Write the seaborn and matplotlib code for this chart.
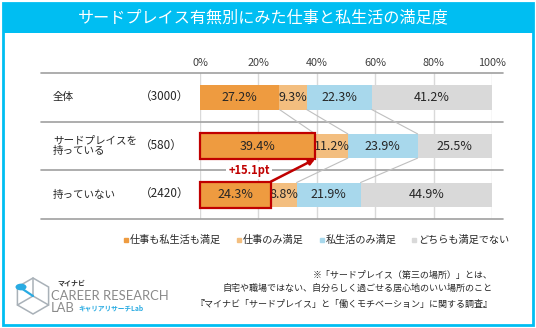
import matplotlib
matplotlib.use("Agg")
import matplotlib.pyplot as plt
from matplotlib.patches import Rectangle, Circle, Polygon
from matplotlib.lines import Line2D
import seaborn as sns
import pandas as pd
import numpy as np

# ---------------- data ----------------
groups = ["全体", "サードプレイスを\n持っている", "持っていない"]
group_n = ["（3000）", "（580）", "（2420）"]
series = ["仕事も私生活も満足", "仕事のみ満足", "私生活のみ満足", "どちらも満足でない"]
both = [27.2, 39.4, 24.3]
work_only = [9.3, 11.2, 8.8]
private_only = [22.3, 23.9, 21.9]
neither = [41.2, 25.5, 44.9]
ticks = [0, 20, 40, 60, 80, 100]
tick_labels = ["0%", "20%", "40%", "60%", "80%", "100%"]
diff_label = "+15.1pt"
title = "サードプレイス有無別にみた仕事と私生活の満足度"
notes = ["※「サードプレイス（第三の場所）」とは、",
         "自宅や職場ではない、自分らしく過ごせる居心地のいい場所のこと",
         "『マイナビ「サードプレイス」と「働くモチベーション」に関する調査』"]

colors = ["#EE9B40", "#F3BE7F", "#A8D8EC", "#D9D9D9"]

sns.set_theme(style="white")
plt.rcParams['font.family'] = ['Noto Sans CJK JP', 'DejaVu Sans']

W, H = 536, 328
fig = plt.figure(figsize=(W / 100, H / 100), dpi=100)

def fx(px):
    return px / W

def fy(py):
    return 1 - py / H

# frame and title bar
frame_col = "#00BEF2"
fig.add_artist(Rectangle((fx(3), fy(325)), fx(530), 322 / H, transform=fig.transFigure,
                         fill=False, edgecolor=frame_col, lw=2))
fig.add_artist(Rectangle((fx(3), fy(33)), fx(530), 30 / H, transform=fig.transFigure,
                         facecolor=frame_col, edgecolor=frame_col, lw=0))
fig.text(fx(263), fy(18), title, color="white", fontsize=11.6, ha="center", va="center")

# main axes: 0% at 200px, 100% at 492px; rows between 73px and 219px
ax = fig.add_axes([fx(200), fy(219), fx(292), 146 / H])

vals = np.array([both, work_only, private_only, neither])  # shape (4, 3)
cum = np.cumsum(vals, axis=0)
df = pd.DataFrame({"group": groups})
for k in range(4):
    df[f"cum{k}"] = cum[k]

for k in range(3, -1, -1):
    sns.barplot(data=df, y="group", x=f"cum{k}", color=colors[k], orient="h",
                width=0.5, saturation=1, ax=ax, linewidth=0, zorder=3)

ax.set_xlim(0, 100)
ax.set_ylim(2.5, -0.5)
ax.set_xlabel("")
ax.set_ylabel("")
ax.set_yticks([])
ax.xaxis.tick_top()
ax.set_xticks(ticks)
ax.set_xticklabels(tick_labels, fontsize=7.8, color="#404040")
ax.tick_params(axis="x", length=0, pad=3.5)
ax.grid(axis="x", color="#D9D9D9", lw=1)
ax.grid(axis="y", visible=False)
ax.set_axisbelow(True)
for s in ax.spines.values():
    s.set_visible(False)

# separators
for yy in [-0.5, 0.5, 1.5, 2.5]:
    ax.plot([-54.5, 103.8], [yy, yy], color="#A0A0A0", lw=1.2, clip_on=False, zorder=2)

# segment labels
for i in range(3):
    for k in range(4):
        v = vals[k, i]
        ax.text(cum[k, i] - v / 2, i, f"{v}%", ha="center", va="center",
                fontsize=9, color="#262626", zorder=6)

# connector lines
for i in range(2):
    for k in range(3):
        ax.plot([cum[k, i], cum[k, i + 1]], [i + 0.25, i + 0.75], color="#BFBFBF",
                lw=0.8, zorder=4, clip_on=False)

# row labels
for i in range(3):
    ax.text(-50.3, i, groups[i], ha="left", va="center", fontsize=7.6,
            color="#262626", linespacing=1.1, clip_on=False)
    ax.text(-20.5, i, group_n[i], ha="left", va="center", fontsize=8.4,
            color="#262626", clip_on=False)

# red highlight boxes
red = "#C00000"
for i in (1, 2):
    ax.add_patch(Rectangle((0, i - 0.27), both[i], 0.54, fill=False,
                           edgecolor=red, lw=1.6, zorder=7, clip_on=False))
ax.annotate("", xy=(both[1], 1 + 0.27), xytext=(both[2], 2 - 0.27),
            arrowprops=dict(arrowstyle="-|>", color=red, lw=1.8, mutation_scale=8,
                            shrinkA=0, shrinkB=0), zorder=8)
ax.text(16.8, 1.5, diff_label, ha="center", va="center", fontsize=8, color=red,
        fontweight="bold", zorder=8,
        bbox=dict(facecolor="white", edgecolor="none", pad=1.5))

# legend
handles = [Line2D([], [], marker="s", linestyle="", markersize=3.5, color=c) for c in colors]
fig.legend(handles, series, loc="center", bbox_to_anchor=(fx(316), fy(240)), ncol=4,
           frameon=False, fontsize=7.3, handletextpad=0.05, handlelength=0.7,
           columnspacing=1.4, labelcolor="#262626")

# notes
for txt, py in zip(notes, [275, 288, 304]):
    fig.text(fx(493), fy(py), txt, ha="right", va="center", fontsize=6.5, color="#262626")

# logo
cx, cy, r = 33, 296, 18
ang = np.deg2rad([90, 150, 210, 270, 330, 30])
pts = [(fx(cx + r * np.cos(a)), fy(cy - r * np.sin(a))) for a in ang]
fig.add_artist(Polygon(pts, closed=True, fill=False, edgecolor="#A9B1B8", lw=1.1,
                       transform=fig.transFigure))
for a in np.deg2rad([90, 210, 330]):
    fig.add_artist(Line2D([fx(cx), fx(cx + r * np.cos(a))], [fy(cy), fy(cy - r * np.sin(a))],
                          color="#A9B1B8", lw=1.1, transform=fig.transFigure))
fig.add_artist(Line2D([fx(21), fx(33)], [fy(288), fy(296)], color="#29ABE2", lw=1.6,
                      transform=fig.transFigure))
fig.add_artist(Circle((fx(21), fy(287)), 5.5 / W, transform=fig.transFigure,
                      facecolor="#29ABE2", edgecolor="none"))
fig.text(fx(57), fy(283), "マイナビ", fontsize=5, fontweight="bold", color="#333333",
         ha="left", va="center")
fig.text(fx(51), fy(296), "CAREER RESEARCH", fontsize=9.4, color="#8A8A8A",
         ha="left", va="center", family=["Lato", "DejaVu Sans"])
fig.text(fx(51), fy(308), "LAB", fontsize=9.4, color="#8A8A8A",
         ha="left", va="center", family=["Lato", "DejaVu Sans"])
fig.text(fx(78), fy(308), "キャリアリサーチLab", fontsize=4.8, color="#29ABE2",
         fontweight="bold", ha="left", va="center")

fig.savefig("out.png", dpi=100)
